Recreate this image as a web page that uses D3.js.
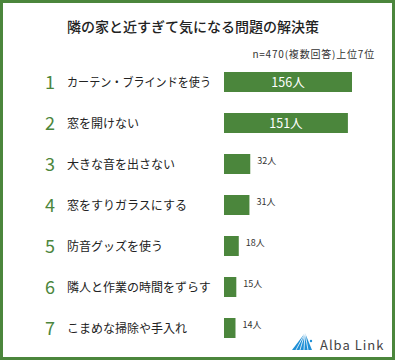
<!DOCTYPE html>
<html>
<head>
<meta charset="utf-8">
<script src="https://cdn.jsdelivr.net/npm/d3@7"></script>
<style>
  body { margin: 0; background: #fff; }
  text { font-family: "Noto Sans CJK JP", "Noto Sans", sans-serif; }
</style>
</head>
<body>
<div id="chart"></div>
<script>
const ranks = ["1", "2", "3", "4", "5", "6", "7"]
const labels = [
    "カーテン・ブラインドを使う",
    "窓を開けない",
    "大きな音を出さない",
    "窓をすりガラスにする",
    "防音グッズを使う",
    "隣人と作業の時間をずらす",
    "こまめな掃除や手入れ"
]
const counts = [156, 151, 32, 31, 18, 15, 14]
const unit = "人"
const title = "隣の家と近すぎて気になる問題の解決策"
const note = "n=470(複数回答)上位7位"

var width = 395, height = 360
var green = "#4b863c"

var svg = d3.select("#chart").append("svg")
    .attr("width", width)
    .attr("height", height)

// frame
svg.append("rect")
    .attr("x", 1.5).attr("y", 1.5)
    .attr("width", width - 3).attr("height", height - 3)
    .attr("fill", "#fff")
    .attr("stroke", green)
    .attr("stroke-width", 3)

svg.append("text")
    .attr("x", 193).attr("y", 32)
    .attr("text-anchor", "middle")
    .attr("font-size", 14)
    .attr("font-weight", 500)
    .attr("fill", "#222")
    .text(title)

svg.append("text")
    .attr("x", 375).attr("y", 58)
    .attr("text-anchor", "end")
    .attr("font-size", 10)
    .attr("letter-spacing", 0.8)
    .attr("fill", "#333")
    .text(note)

var y = d3.scalePoint()
    .domain(d3.range(labels.length))
    .range([82, 328])

var x = d3.scaleLinear()
    .domain([0, 156])
    .range([224, 352])

var barH = 20

var rows = svg.selectAll(".row")
    .data(counts)
    .enter().append("g")
    .attr("class", "row")
    .attr("transform", function(d, i) { return "translate(0," + y(i) + ")" })

rows.append("text")
    .attr("x", 50).attr("y", 6.5)
    .attr("text-anchor", "middle")
    .attr("font-size", 18)
    .attr("fill", green)
    .text(function(d, i) { return ranks[i] })

rows.append("text")
    .attr("x", 67).attr("y", 4.5)
    .attr("font-size", 12)
    .attr("fill", "#222")
    .text(function(d, i) { return labels[i] })
    .each(function() {
        // keep long labels clear of the bars
        if (this.getComputedTextLength() > 144) {
            d3.select(this).attr("textLength", 144).attr("lengthAdjust", "spacingAndGlyphs")
        }
    })

rows.append("rect")
    .attr("x", x(0))
    .attr("y", -barH / 2)
    .attr("width", function(d) { return x(d) - x(0) })
    .attr("height", barH)
    .attr("fill", green)

rows.append("text")
    .attr("x", function(d) { return d > 100 ? (x(0) + x(d)) / 2 : x(d) + 7 })
    .attr("y", function(d) { return d > 100 ? 4.5 : 0 })
    .attr("text-anchor", function(d) { return d > 100 ? "middle" : "start" })
    .attr("font-size", function(d) { return d > 100 ? 12.5 : 9 })
    .attr("fill", function(d) { return d > 100 ? "#fff" : "#333" })
    .text(function(d) { return d + unit })

// logo
var logo = svg.append("g").attr("transform", "translate(292,333)")
logo.append("path")
    .attr("d", "M13,0 L0,17 L20,17 Z")
    .attr("fill", "#1f8fd6")
for (var k = 0; k < 4; k++) {
    logo.append("line")
        .attr("x1", 4 + k * 4).attr("y1", 17)
        .attr("x2", 13).attr("y2", 0)
        .attr("stroke", "#fff")
        .attr("stroke-width", 0.8)
}
logo.append("circle").attr("cx", 19).attr("cy", 8).attr("r", 1.2).attr("fill", "#1f8fd6")

svg.append("text")
    .attr("x", 320).attr("y", 350)
    .attr("font-size", 13)
    .attr("letter-spacing", 1)
    .attr("fill", "#444")
    .text("Alba Link")
</script>
</body>
</html>
